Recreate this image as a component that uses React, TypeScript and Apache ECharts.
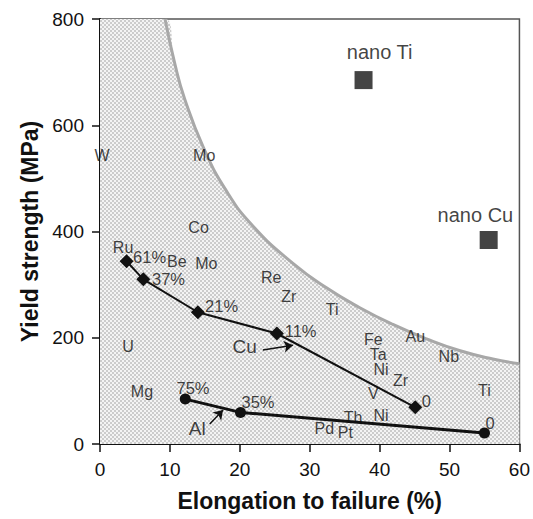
import React, { useEffect, useRef } from "react";
import * as echarts from "echarts";

// Upper bound curve (elongation %, yield MPa)
const boundCurve: [number, number][] = [
  [9.3, 800], [10.7, 716], [12.1, 650], [14.8, 558], [18.1, 476], [21.9, 410],
  [27.6, 340], [32.4, 294], [37.1, 257], [41.9, 225],
  [46.7, 198], [51.4, 176], [56.2, 160], [60, 151],
];

const cuPoints: [number, number][] = [[3.8, 344], [6.2, 310], [14.0, 248], [25.3, 208], [45.1, 69]];
const alPoints: [number, number][] = [[12.2, 84.5], [20.1, 59.5], [55.0, 20.7]];
const nanoPoints: [number, number][] = [[37.7, 685], [55.6, 384]];
const nanoLabels: [string, number, number][] = [["nano Ti", 40.0, 738], ["nano Cu", 53.7, 432]];

const elementLabels: [string, number, number][] = [
  ["W", 0.3, 543], ["Mo", 14.9, 543], ["Co", 14.1, 407], ["Ru", 3.3, 369],
  ["Be", 11.0, 343], ["Mo", 15.2, 339], ["Re", 24.5, 313], ["Zr", 27.0, 277],
  ["U", 4.0, 183], ["Mg", 6.0, 98], ["Ti", 33.2, 253.5], ["Fe", 39.1, 197],
  ["Au", 45.1, 203], ["Ta", 39.8, 169], ["Ni", 40.2, 139.5], ["Nb", 49.9, 164],
  ["Zr", 43.0, 119], ["V", 39.1, 95], ["Ti", 55.0, 100], ["Th", 36.2, 50],
  ["Ni", 40.2, 53], ["Pd", 32.1, 29.5], ["Pt", 35.1, 22],
];
const percentLabels: [string, number, number][] = [
  ["61%", 7.1, 352], ["37%", 9.8, 310], ["21%", 17.4, 260], ["11%", 28.7, 212],
  ["0", 46.7, 81], ["75%", 13.3, 106], ["35%", 22.6, 79], ["0", 55.8, 39],
];
const seriesNames: [string, number, number][] = [["Cu", 20.7, 183], ["Al", 13.9, 29.5]];
const arrows: [number, number, number, number][] = [
  [23.3, 177, 27.6, 186],
  [15.7, 37.6, 17.6, 63.8],
];

const xTicks = { min: 0, max: 60, interval: 10 };
const yTicks = { min: 0, max: 800, interval: 200 };

const FONT = "Liberation Sans, Arial, Helvetica, sans-serif";

function makePattern() {
  const c = document.createElement("canvas");
  c.width = 4;
  c.height = 4;
  const ctx = c.getContext("2d")!;
  ctx.fillStyle = "#f4f4f4";
  ctx.fillRect(0, 0, 4, 4);
  ctx.fillStyle = "#cccccc";
  ctx.fillRect(0, 0, 2, 2);
  ctx.fillRect(2, 2, 2, 2);
  return c;
}

function textSeries(items: [string, number, number][], size: number, z: number) {
  return {
    type: "scatter",
    symbolSize: 0,
    z,
    silent: true,
    data: items.map(([n, x, y]) => ({ name: n, value: [x, y] })),
    label: {
      show: true,
      position: "inside",
      formatter: (p: any) => p.name,
      fontSize: size,
      fontFamily: FONT,
      color: "#111",
    },
  };
}

export default function App() {
  const ref = useRef<HTMLDivElement>(null);
  useEffect(() => {
    const chart = echarts.init(ref.current!, undefined, { renderer: "svg" });
    const pattern = makePattern();
    chart.setOption({
      animation: false,
      backgroundColor: "#ffffff",
      grid: {
        left: 100, right: 13, top: 19, bottom: 75,
        show: true, borderColor: "#555", borderWidth: 1.5, backgroundColor: "#fff",
      },
      xAxis: {
        type: "value", ...xTicks,
        name: "Elongation to failure (%)", nameLocation: "middle", nameGap: 45,
        nameTextStyle: { fontSize: 23, fontWeight: "bold", fontFamily: FONT, color: "#111" },
        axisLine: { show: true, lineStyle: { color: "#111", width: 2 } },
        axisTick: { show: true, length: 8, lineStyle: { color: "#111", width: 1.5 } },
        axisLabel: { fontSize: 19, fontFamily: FONT, color: "#111", margin: 16 },
        splitLine: { show: false },
      },
      yAxis: {
        type: "value", ...yTicks,
        name: "Yield strength (MPa)", nameLocation: "middle", nameGap: 59,
        nameTextStyle: { fontSize: 23, fontWeight: "bold", fontFamily: FONT, color: "#111" },
        axisLine: { show: true, lineStyle: { color: "#111", width: 2 } },
        axisTick: { show: true, length: 8, lineStyle: { color: "#111", width: 1.5 } },
        axisLabel: { fontSize: 19, fontFamily: FONT, color: "#111", margin: 16 },
        splitLine: { show: false },
      },
      series: [
        {
          type: "line",
          z: 1,
          silent: true,
          showSymbol: false,
          symbol: "none",
          smooth: 0.5,
          data: [[0, 800], ...boundCurve],
          lineStyle: { width: 0, opacity: 0 },
          areaStyle: { color: { image: pattern, repeat: "repeat" } as any, opacity: 1 },
        },
        {
          type: "line",
          z: 2,
          silent: true,
          symbol: "none",
          smooth: 0.5,
          data: boundCurve,
          lineStyle: { color: "#a8a8a8", width: 3 },
        },
        {
          type: "line",
          z: 3,
          data: cuPoints,
          symbol: "diamond",
          symbolSize: 14,
          itemStyle: { color: "#111" },
          lineStyle: { color: "#111", width: 2 },
        },
        {
          type: "line",
          z: 3,
          data: alPoints,
          symbol: "circle",
          symbolSize: 11,
          itemStyle: { color: "#111" },
          lineStyle: { color: "#111", width: 3 },
        },
        {
          type: "scatter",
          z: 3,
          symbol: "rect",
          symbolSize: 18,
          itemStyle: { color: "#151515" },
          data: nanoPoints,
        },
        {
          type: "lines",
          coordinateSystem: "cartesian2d",
          z: 4,
          silent: true,
          symbol: ["none", "arrow"],
          symbolSize: 9,
          lineStyle: { color: "#111", width: 1.5, opacity: 1 },
          data: arrows.map(([a, b, c, d]) => ({ coords: [[a, b], [c, d]] })),
        },
        textSeries(elementLabels, 16, 5),
        textSeries(percentLabels, 16.5, 5),
        textSeries(seriesNames, 19, 5),
        textSeries(nanoLabels, 20, 5),
      ],
    });
    return () => chart.dispose();
  }, []);
  return (
    <div
      ref={ref}
      style={{ position: "fixed", left: 0, top: 0, width: 533, height: 519 }}
    />
  );
}
